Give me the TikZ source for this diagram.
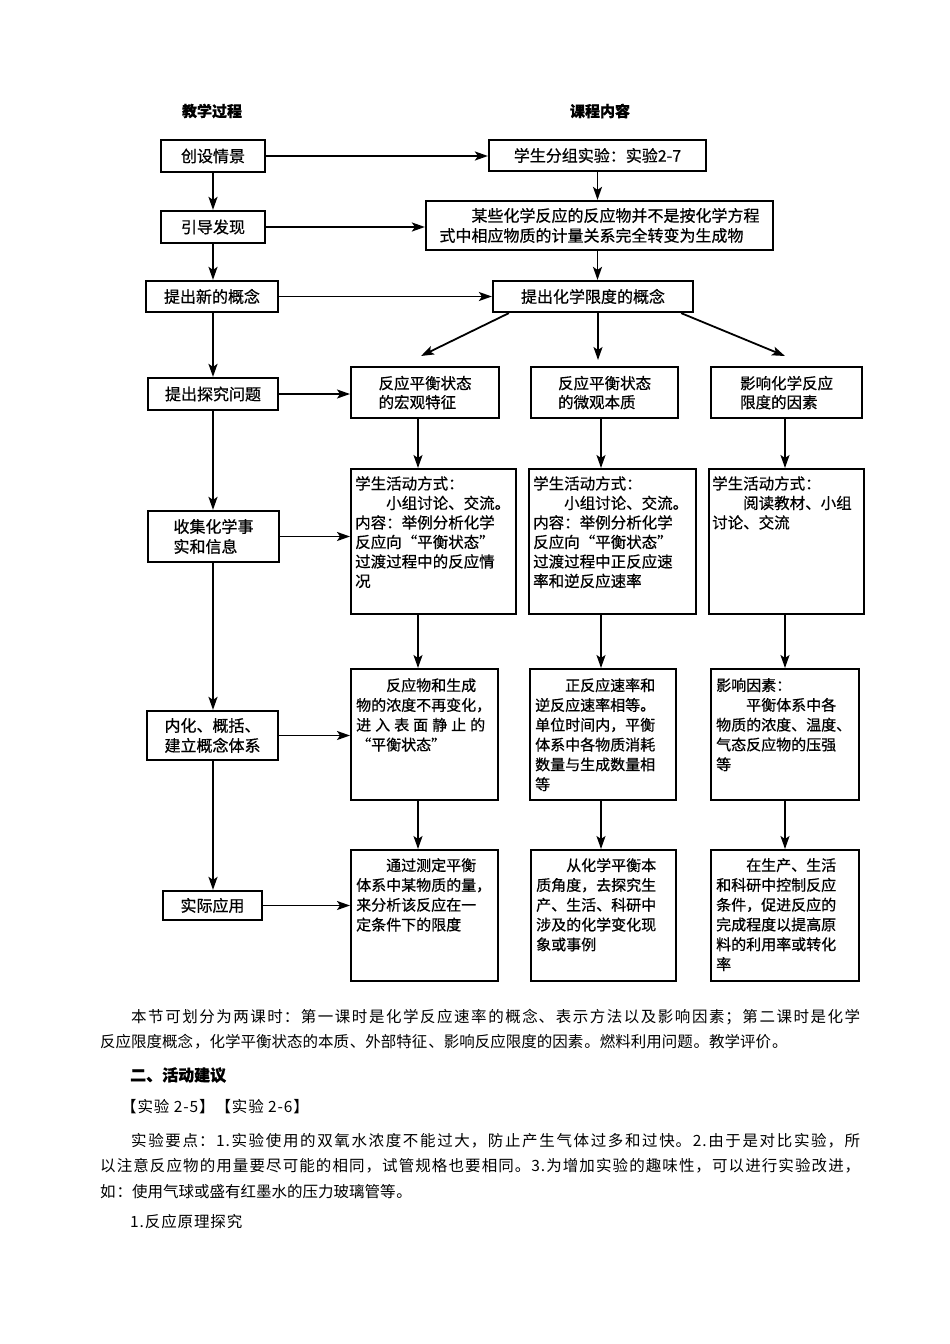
\documentclass[tikz,border=0pt]{standalone}
\usepackage{fontspec}
\newfontfamily\cjk[FakeBold=0.6]{Noto Sans CJK SC}
\newfontfamily\cjkp[LetterSpace=5.8]{Noto Sans CJK SC}
\usetikzlibrary{arrows.meta,calc}
\XeTeXlinebreaklocale "zh"
\XeTeXlinebreakskip=0pt plus 3pt
\begin{document}
\begin{tikzpicture}[x=1pt,y=-1pt,
  hd/.style={inner sep=0pt, font=\cjk\bfseries\fontsize{15}{18}\selectfont},
  lb/.style={draw, line width=2.2pt, align=left, inner sep=0pt, font=\cjk\fontsize{16}{20}\selectfont},
  bx/.style={draw, line width=2.2pt, inner sep=0pt, anchor=north west},
  ta/.style={align=left, inner sep=0pt, font=\cjk\fontsize{15.5}{19}\selectfont},
  tb/.style={anchor=north west, align=left, inner sep=0pt, font=\cjk\fontsize{15.5}{19.5}\selectfont},
  tc/.style={anchor=north west, align=left, inner sep=0pt, font=\cjk\fontsize{15}{19.8}\selectfont},
  arr/.style={line width=1.8pt, -{Stealth[length=13pt,width=9pt,inset=3pt]}},
  para/.style={anchor=north west, align=justify, inner sep=0pt, text width=760pt, font=\cjkp\fontsize{15.5}{25.5}\selectfont},
  pl/.style={anchor=west, inner sep=0pt, font=\cjkp\fontsize{15.5}{25.5}\selectfont},
  hb/.style={anchor=west, inner sep=0pt, font=\cjk\bfseries\fontsize{16}{20}\selectfont}
]
\fill[white] (0,0) rectangle (950,1344);
\useasboundingbox (0,0) rectangle (950,1344);

% headers
\node[hd] (h1) at (212,111) {教学过程};
\node[hd] (h2) at (600,111) {课程内容};

% left column
\node[lb, minimum width=104pt, minimum height=32pt] (L1) at (213,156) {创设情景};
\node[lb, minimum width=104pt, minimum height=32pt] (L2) at (213,227) {引导发现};
\node[lb, minimum width=132pt, minimum height=31pt] (L3) at (212,296.5) {提出新的概念};
\node[lb, minimum width=130pt, minimum height=32pt] (L4) at (213,394) {提出探究问题};
\node[lb, minimum width=131pt, minimum height=51pt] (L5) at (213.5,536.5) {收集化学事\\实和信息};
\node[lb, minimum width=131pt, minimum height=49pt] (L6) at (212.5,735.5) {内化、概括、\\建立概念体系};
\node[lb, minimum width=99pt, minimum height=29pt] (L7) at (212.5,905.5) {实际应用};

% right top
\node[lb, minimum width=217pt, minimum height=31pt] (R1) at (597.5,155.5) {学生分组实验：实验2-7};
\node[lb, minimum width=347pt, minimum height=49pt] (R2) at (599.5,225.5) {\hspace*{2em}某些化学反应的反应物并不是按化学方程\\式中相应物质的计量关系完全转变为生成物};
\node[lb, minimum width=200pt, minimum height=31pt] (R3) at (593,296.5) {提出化学限度的概念};

% row boxes
\node[bx, minimum width=148pt, minimum height=51pt] (r1c1) at (350,366) {};
\node[bx, minimum width=147pt, minimum height=51pt] (r1c2) at (530,366) {};
\node[bx, minimum width=151pt, minimum height=51pt] (r1c3) at (710,366) {};
\node[bx, minimum width=165pt, minimum height=145pt] (r2c1) at (350,468) {};
\node[bx, minimum width=167pt, minimum height=145pt] (r2c2) at (528,468) {};
\node[bx, minimum width=155pt, minimum height=145pt] (r2c3) at (708,468) {};
\node[bx, minimum width=147pt, minimum height=131pt] (r3c1) at (350,668) {};
\node[bx, minimum width=146pt, minimum height=131pt] (r3c2) at (529,668) {};
\node[bx, minimum width=148pt, minimum height=131pt] (r3c3) at (710,668) {};
\node[bx, minimum width=147pt, minimum height=131pt] (r4c1) at (350,849) {};
\node[bx, minimum width=145pt, minimum height=131pt] (r4c2) at (530,849) {};
\node[bx, minimum width=148pt, minimum height=131pt] (r4c3) at (710,849) {};

% row 1 texts
\node[ta] (x11) at (r1c1.center) {反应平衡状态\\的宏观特征};
\node[ta] (x12) at (r1c2.center) {反应平衡状态\\的微观本质};
\node[ta] (x13) at (r1c3.center) {影响化学反应\\限度的因素};

% row 2 texts
\node[tb] (x21) at ([xshift=5pt,yshift=-8pt]r2c1.north west) {学生活动方式：\\\hspace*{2em}小组讨论、交流。\\内容：举例分析化学\\反应向“平衡状态”\\过渡过程中的反应情\\况};
\node[tb] (x22) at ([xshift=5pt,yshift=-8pt]r2c2.north west) {学生活动方式：\\\hspace*{2em}小组讨论、交流。\\内容：举例分析化学\\反应向“平衡状态”\\过渡过程中正反应速\\率和逆反应速率};
\node[tb] (x23) at ([xshift=4pt,yshift=-8pt]r2c3.north west) {学生活动方式：\\\hspace*{2em}阅读教材、小组\\讨论、交流};

% row 3 texts
\node[tc] (x31) at ([xshift=6pt,yshift=-10pt]r3c1.north west) {\hspace*{2em}反应物和生成\\物的浓度不再变化，\\\makebox[8.6em][s]{进\hfill 入\hfill 表\hfill 面\hfill 静\hfill 止\hfill 的}\\“平衡状态”};
\node[tc] (x32) at ([xshift=6pt,yshift=-10pt]r3c2.north west) {\hspace*{2em}正反应速率和\\逆反应速率相等。\\单位时间内，平衡\\体系中各物质消耗\\数量与生成数量相\\等};
\node[tc] (x33) at ([xshift=6pt,yshift=-10pt]r3c3.north west) {影响因素：\\\hspace*{2em}平衡体系中各\\物质的浓度、温度、\\气态反应物的压强\\等};

% row 4 texts
\node[tc] (x41) at ([xshift=6pt,yshift=-9pt]r4c1.north west) {\hspace*{2em}通过测定平衡\\体系中某物质的量，\\来分析该反应在一\\定条件下的限度};
\node[tc] (x42) at ([xshift=6pt,yshift=-9pt]r4c2.north west) {\hspace*{2em}从化学平衡本\\质角度，去探究生\\产、生活、科研中\\涉及的化学变化现\\象或事例};
\node[tc] (x43) at ([xshift=6pt,yshift=-9pt]r4c3.north west) {\hspace*{2em}在生产、生活\\和科研中控制反应\\条件，促进反应的\\完成程度以提高原\\料的利用率或转化\\率};

% left vertical arrows
\coordinate (lx) at (213,0);
\draw[arr] (lx |- L1.south) -- (lx |- L2.north);
\draw[arr] (lx |- L2.south) -- (lx |- L3.north);
\draw[arr] (lx |- L3.south) -- (lx |- L4.north);
\draw[arr] (lx |- L4.south) -- (lx |- L5.north);
\draw[arr] (lx |- L5.south) -- (lx |- L6.north);
\draw[arr] (lx |- L6.south) -- (lx |- L7.north);

% horizontal arrows
\draw[arr] (L1.east) -- (L1.east -| R1.west);
\draw[arr] (L2.east) -- (L2.east -| R2.west);
\draw[arr] (L3.east) -- (L3.east -| R3.west);
\draw[arr] (L4.east) -- (L4.east -| r1c1.west);
\draw[arr] (L5.east) -- (L5.east -| r2c1.west);
\draw[arr] (L6.east) -- (L6.east -| r3c1.west);
\draw[arr] (L7.east) -- (L7.east -| r4c1.west);

% right top arrows
\draw[arr] (R1.south) -- (R1.south |- R2.north);
\draw[arr] (R1.south |- R2.south) -- (R1.south |- R3.north);

% split arrows
\coordinate (a1) at (421,356);
\coordinate (a2) at (598,360);
\coordinate (a3) at (785,356);
\draw[arr] ([xshift=17pt]R3.south west) -- (a1);
\draw[arr] (a2 |- R3.south) -- (a2);
\draw[arr] ([xshift=-13pt]R3.south east) -- (a3);

% column arrows
\coordinate (k1) at (418,0);
\coordinate (k2) at (601,0);
\coordinate (k3) at (785,0);
\foreach \c/\k in {1/k1,2/k2,3/k3}{
  \draw[arr] (\k |- r1c\c.south) -- (\k |- r2c\c.north);
  \draw[arr] (\k |- r2c\c.south) -- (\k |- r3c\c.north);
  \draw[arr] (\k |- r3c\c.south) -- (\k |- r4c\c.north);
}

% bottom text
\node[para] (p1) at (100,1009) {\hspace*{2em}本节可划分为两课时：第一课时是化学反应速率的概念、表示方法以及影响因素；第二课时是化学\linebreak 反应限度概念，化学平衡状态的本质、外部特征、影响反应限度的因素。燃料利用问题。教学评价。};
\node[hb] (p2) at (130,1075) {二、活动建议};
\node[pl] (p3) at (121,1107) {【实验 2-5】【实验 2-6】};
\node[para] (p4) at (100,1133) {\hspace*{2em}实验要点：1.实验使用的双氧水浓度不能过大，防止产生气体过多和过快。2.由于是对比实验，所\linebreak 以注意反应物的用量要尽可能的相同，试管规格也要相同。3.为增加实验的趣味性，可以进行实验改进，\linebreak 如：使用气球或盛有红墨水的压力玻璃管等。};
\node[pl] (p5) at (130,1222) {1.反应原理探究};
\end{tikzpicture}
\end{document}
